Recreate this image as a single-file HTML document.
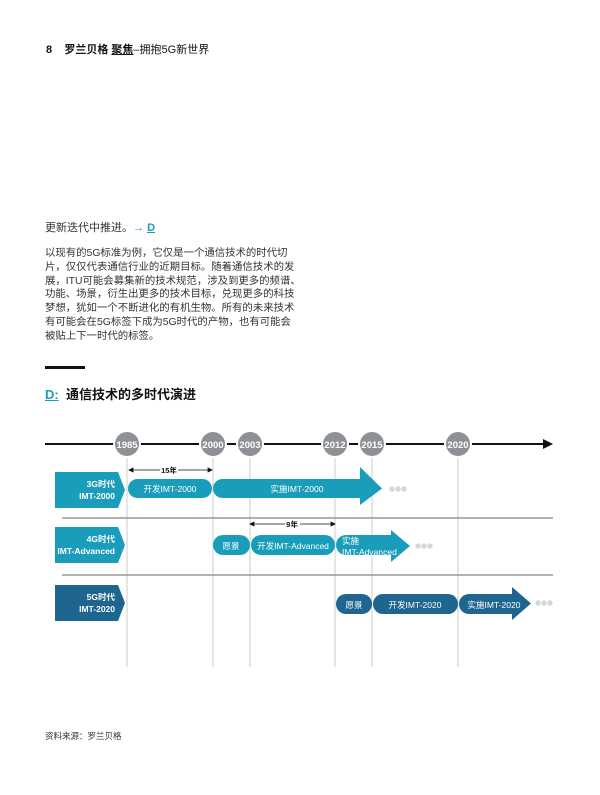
<!DOCTYPE html>
<html><head><meta charset="utf-8"><style>
body{margin:0;width:600px;height:795px;background:#fff;position:relative;overflow:hidden;font-family:"Liberation Sans","Noto Sans CJK SC",sans-serif;color:#333}
.a{position:absolute;white-space:nowrap}
</style></head><body>
<div class="a" style="left:46px;top:41px;font-size:11px;font-weight:bold;color:#111">8&nbsp;&nbsp;&nbsp;&nbsp;罗兰贝格 <span style="text-decoration:underline">聚焦</span><span style="font-weight:normal">–拥抱5G新世界</span></div>
<div class="a" style="left:45px;top:219px;font-size:11px">更新迭代中推进。<span style="color:#1a9dbb;font-weight:bold">→ <u>D</u></span></div>
<div class="a" style="left:45px;top:247px;font-size:10.4px;line-height:13.8px">以现有的5G标准为例，它仅是一个通信技术的时代切<br>片，仅仅代表通信行业的近期目标。随着通信技术的发<br>展，ITU可能会募集新的技术规范，涉及到更多的频谱、<br>功能、场景，衍生出更多的技术目标，兑现更多的科技<br>梦想，犹如一个不断进化的有机生物。所有的未来技术<br>有可能会在5G标签下成为5G时代的产物，也有可能会<br>被贴上下一时代的标签。</div>
<div class="a" style="left:45px;top:366px;width:40px;height:3px;background:#111"></div>
<div class="a" style="left:45px;top:384px;font-size:13px;font-weight:bold;color:#111"><span style="color:#1a9dbb;text-decoration:underline">D:</span>&nbsp;&nbsp;通信技术的多时代演进</div>
<svg class="a" style="left:0;top:0" width="600" height="795" font-family="Liberation Sans,Noto Sans CJK SC,sans-serif">
<g stroke="#ccc" stroke-width="1">
<line x1="127" y1="444" x2="127" y2="667"/><line x1="213" y1="444" x2="213" y2="667"/><line x1="250" y1="444" x2="250" y2="667"/><line x1="335" y1="444" x2="335" y2="667"/><line x1="372" y1="444" x2="372" y2="667"/><line x1="458" y1="444" x2="458" y2="667"/>
</g>
<line x1="45" y1="444" x2="545" y2="444" stroke="#111" stroke-width="2"/>
<polygon points="543,439 553,444 543,449" fill="#111"/>
<g fill="#8d9095" stroke="#fff" stroke-width="2">
<circle cx="127" cy="444" r="13"/><circle cx="213" cy="444" r="13"/><circle cx="250" cy="444" r="13"/><circle cx="335" cy="444" r="13"/><circle cx="372" cy="444" r="13"/><circle cx="458" cy="444" r="13"/></g>
<g fill="#fff" font-size="9.5" font-weight="bold" text-anchor="middle">
<text x="127" y="448">1985</text><text x="213" y="448">2000</text><text x="250" y="448">2003</text><text x="335" y="448">2012</text><text x="372" y="448">2015</text><text x="458" y="448">2020</text></g>
<g stroke="#999" stroke-width="1.5"><line x1="62" y1="518" x2="553" y2="518"/><line x1="62" y1="575" x2="553" y2="575"/></g>
<g stroke="#111" stroke-width="0.8" fill="#111">
<line x1="130" y1="470" x2="160" y2="470"/><line x1="178" y1="470" x2="211" y2="470"/>
<polygon points="129,470 133,468 133,472"/><polygon points="212,470 208,468 208,472"/>
<line x1="251" y1="524" x2="285" y2="524"/><line x1="300" y1="524" x2="334" y2="524"/>
<polygon points="250,524 254,522 254,526"/><polygon points="335,524 331,522 331,526"/></g>
<g font-size="7.5" font-weight="bold" fill="#111" text-anchor="middle"><text x="169" y="473">15年</text><text x="292" y="527">9年</text></g>
<polygon points="55,472 118,472 125,490 118,508 55,508" fill="#1a9dbb"/>
<polygon points="55,527 118,527 125,545 118,563 55,563" fill="#1a9dbb"/>
<polygon points="55,585 118,585 125,603 118,621 55,621" fill="#1e6590"/>
<g fill="#fff" font-size="8.5" font-weight="bold" text-anchor="end">
<text x="115" y="487">3G时代</text><text x="115" y="499">IMT-2000</text>
<text x="115" y="542">4G时代</text><text x="115" y="554">IMT-Advanced</text>
<text x="115" y="600">5G时代</text><text x="115" y="612">IMT-2020</text></g>
<g fill="#1a9dbb">
<rect x="128" y="479" width="84" height="19" rx="9.5"/>
<path d="M222.5,479 H360 V467 L382,488.5 L360,505 V498 H222.5 A9.5,9.5 0 0 1 222.5,479Z"/>
<rect x="213" y="535" width="37" height="20" rx="10"/>
<rect x="251" y="535" width="84" height="20" rx="10"/>
<path d="M346,535 H391 V530 L410,546 L391,562 V555 H346 A10,10 0 0 1 346,535Z"/></g>
<g fill="#1e6590">
<rect x="336" y="594" width="36" height="20" rx="10"/>
<rect x="373" y="594" width="85" height="20" rx="10"/>
<path d="M469,594 H512 V587 L531,603.5 L512,620 V614 H469 A10,10 0 0 1 469,594Z"/></g>
<g fill="#d4d6d8"><circle cx="392" cy="489" r="2.7"/><circle cx="398" cy="489" r="2.7"/><circle cx="404" cy="489" r="2.7"/>
<circle cx="418" cy="546" r="2.7"/><circle cx="424" cy="546" r="2.7"/><circle cx="430" cy="546" r="2.7"/>
<circle cx="538" cy="603" r="2.7"/><circle cx="544" cy="603" r="2.7"/><circle cx="550" cy="603" r="2.7"/></g>
<g fill="#fff" font-size="8.5" text-anchor="middle">
<text x="170" y="492">开发IMT-2000</text><text x="297" y="492">实施IMT-2000</text>
<text x="231" y="549">愿景</text><text x="293" y="549">开发IMT-Advanced</text>
<text x="354" y="608">愿景</text><text x="415" y="608">开发IMT-2020</text><text x="494" y="608">实施IMT-2020</text>
<text x="342" y="544" text-anchor="start">实施</text><text x="342" y="555" text-anchor="start">IMT-Advanced</text></g>
</svg>
<div class="a" style="left:45px;top:730px;font-size:8.5px;color:#333">资料来源：罗兰贝格</div>
</body></html>
